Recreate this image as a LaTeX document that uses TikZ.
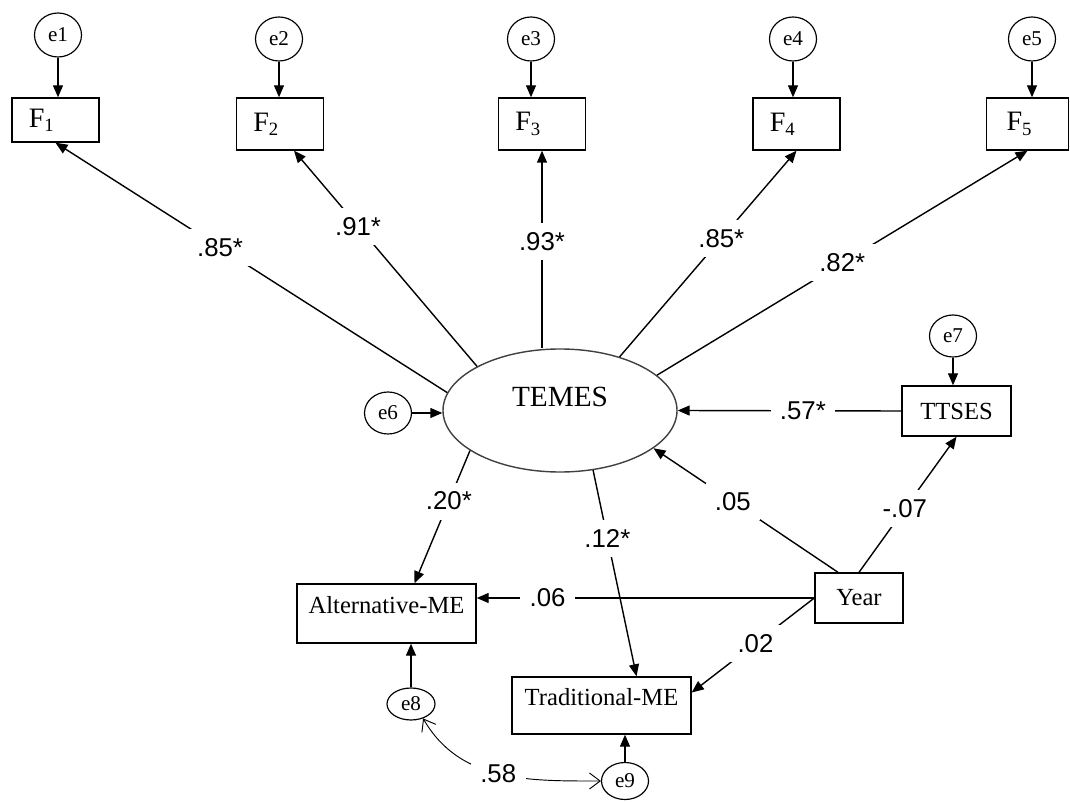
\documentclass[tikz,border=0pt]{standalone}
\usepackage{fontspec}
\setmainfont{Liberation Serif}
\setsansfont{Liberation Sans}
\usetikzlibrary{arrows.meta, shapes.geometric, calc}
\tikzset{
  er/.style = {ellipse, draw=black, line width=0.5pt, inner sep=0pt,
    minimum width=0.705cm, minimum height=0.66cm, font=\fontsize{9}{9}\selectfont},
  ob/.style = {rectangle, draw=black, line width=0.6pt, inner sep=0pt,
    font=\fontsize{10.5}{11}\selectfont},
  fi/.style = {ob, minimum height=0.78cm, align=left, text width=0.8cm,
    inner xsep=0.255cm, font=\fontsize{12}{12}\selectfont},
  lt/.style = {ellipse, draw=black!75, line width=0.6pt, inner sep=0pt,
    minimum width=3.51cm, minimum height=1.845cm, font=\fontsize{12.5}{13}\selectfont},
  seta/.style = {-{Triangle[length=1.8mm, width=1.5mm]}, line width=0.6pt},
  coef/.style = {fill=white, inner sep=4pt, font=\sffamily\fontsize{11}{11}\selectfont},
  cov/.style = {{Straight Barb[length=1.6mm, width=2.4mm]}-{Straight Barb[length=1.6mm, width=2.4mm]},
    line width=0.4pt}
}

\begin{document}
\begin{tikzpicture}[x=0.015cm, y=-0.015cm]
  \useasboundingbox (0,0) rectangle (1070,802);
  \node [er] (e1) at (58,35) {e1};
  \node [er] (e2) at (279,39) {e2};
  \node [er] (e3) at (531,39) {e3};
  \node [er] (e4) at (793,39) {e4};
  \node [er] (e5) at (1032,39) {e5};
  \node [fi, minimum height=0.66cm] (f1) at (55.5,120) {F\textsubscript{1}};
  \node [fi] (f2) at (280,124) {F\textsubscript{2}};
  \node [fi] (f3) at (542,124) {F\textsubscript{3}};
  \node [fi] (f4) at (796.5,124) {F\textsubscript{4}};
  \node [fi, text width=0.63cm, inner xsep=0.3cm] (f5) at (1027.5,124) {F\textsubscript{5}};

  \node [lt, text height=0.3cm, text depth=0.43cm] (temes) at (560,410.5) {TEMES};
  \node [er, minimum height=0.63cm] (e6) at (388,413) {e6};
  \node [ob, minimum width=1.635cm, minimum height=0.75cm] (ttses) at (956.5,411) {TTSES};
  \node [er, minimum height=0.63cm] (e7) at (953,336) {e7};
  \node [ob, minimum width=1.32cm, minimum height=0.75cm] (year) at (859,598) {Year};
  \node [ob, minimum width=2.685cm, minimum height=0.885cm, text height=0.3cm,
    text depth=0.3cm] (alt) at (386.5,613.5) {Alternative-ME};
  \node [ob, minimum width=2.685cm, minimum height=0.855cm, text height=0.3cm,
    text depth=0.3cm] (trad) at (601.5,705.5) {Traditional-ME};
  \node [er, minimum width=0.72cm, minimum height=0.48cm] (e8) at (411,704) {e8};
  \node [er, minimum height=0.555cm] (e9) at (625,781) {e9};

  \foreach \i in {1,...,5} \draw [seta] (e\i.south) -- (e\i.south |- f\i.north);
  \draw [seta] (e6.east) -- (e6.east -| temes.west);
  \draw [seta] (e7.south) -- (e7.south |- ttses.north);
  \draw [seta] (e8.north) -- (e8.north |- alt.south);
  \draw [seta] (e9.north) -- (e9.north |- trad.south);

  \draw [seta] (temes.171) -- node [coef, pos=0.58] {.85*} (f1.south);
  \draw [seta] (temes.152) -- node [coef, pos=0.65] {.91*} ($(f2.south)+(14,0)$);
  \draw [seta] (temes.north -| f3.south) -- node [coef, pos=0.54] {.93*} (f3.south);
  \draw [seta] (temes.42) -- node [coef, pos=0.575] {.85*} (f4.south);
  \draw [seta] (temes.20) -- node [coef, pos=0.5] {.82*} (f5.south);

  \draw [seta] (ttses.west) -- node [coef, pos=0.44] {.57*} (temes.east);
  \draw [seta] ($(year.north)+(-21,0)$) -- node [coef, pos=0.57] {.05} (temes.-22);
  \draw [seta] (year.north) -- node [coef, pos=0.47] {-.07} (ttses.south);
  \draw [seta] (year.west) -- node [coef, pos=0.79] {.06} (year.west -| alt.east);
  \draw [seta] (year.west) -- node [coef, pos=0.48] {.02} ($(trad.east)+(0,-13)$);
  \draw [seta] (temes.-156) -- node [coef, pos=0.38] {.20*} ($(alt.north)+(28,0)$);
  \draw [seta] (temes.-61) -- node [coef, pos=0.33] {.12*} ($(trad.north)+(35,0)$);

  \draw [cov] (e8.-50) to [out=-60, in=180] node [coef, pos=0.5] {.58} (e9.west);
\end{tikzpicture}
\end{document}
